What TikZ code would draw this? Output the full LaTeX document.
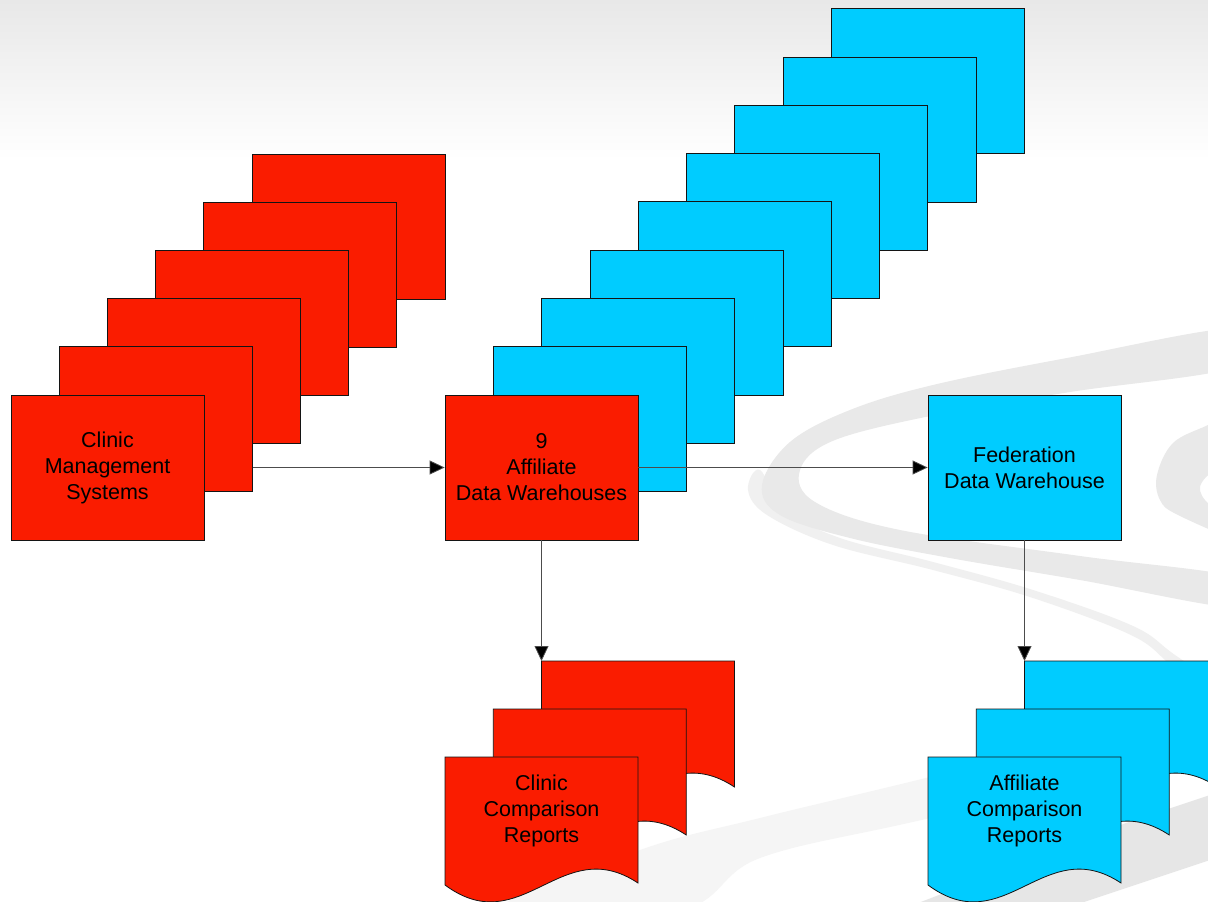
\documentclass[tikz,border=0pt]{standalone}
\usepackage{fontspec}
\setmainfont{Liberation Sans}
\usetikzlibrary{arrows.meta}

\definecolor{boxred}{RGB}{250,28,0}
\definecolor{boxblue}{RGB}{0,204,255}
\definecolor{edge}{RGB}{20,20,20}
\definecolor{swooshA}{RGB}{233,233,233}
\definecolor{swooshB}{RGB}{240,240,240}
\definecolor{swooshC}{RGB}{245,245,245}
\definecolor{swooshD}{RGB}{230,230,230}

\tikzset{
  unit/.style={draw=edge, line width=0.8pt, minimum width=193pt, minimum height=145pt,
    inner sep=0pt, align=center, font=\fontsize{21.5}{26}\selectfont},
  redunit/.style={unit, fill=boxred},
  blueunit/.style={unit, fill=boxblue},
  doclabel/.style={align=center, inner sep=0pt, font=\fontsize{21.5}{26}\selectfont},
  flow/.style={draw=black!70, line width=0.8pt,
    -{Triangle[length=15pt,width=14pt,fill=black]}},
  % flowchart "document" symbol, origin at its top-left corner
  report/.pic={
    \path[draw=edge, line width=0.8pt, pic actions]
      (0,0) -- (193,0) -- (193,126)
      .. controls (116,75) and (77,185) .. (0,128) -- cycle;
    \coordinate (-nw) at (0,0);
  }
}

\begin{document}
\begin{tikzpicture}[x=1pt,y=-1pt]
\useasboundingbox (0,0) rectangle (1208,902);
\clip (0,0) rectangle (1208,902);

% backdrop: soft grey fade at the top and pale swooshes
\fill[white] (0,0) rectangle (1208,902);
\shade[top color=black!9, bottom color=white] (0,0) rectangle (1208,160);

\fill[swooshC] plot[smooth cycle, tension=0.6] coordinates {
  (500,910) (640,850) (760,818) (930,777) (1240,700)
  (1240,745) (930,818) (760,858) (680,910)};
\fill[swooshD] (900,910) -- (1126,823) -- (1240,785) -- (1240,850) -- (1150,880) -- (1060,910) -- cycle;

\fill[swooshB] plot[smooth cycle, tension=0.6] coordinates {
  (760,470) (748,490) (767,515) (833,545) (933,570) (1033,598) (1133,636) (1175,668) (1240,712)
  (1240,700) (1175,655) (1133,626) (1033,590) (933,562) (840,538) (785,510)};
\fill[swooshA] plot[smooth cycle, tension=0.6] coordinates {
  (1240,328) (1067,358) (933,385) (850,410) (790,442) (762,485) (780,515) (850,538)
  (950,558) (1080,580) (1240,608)
  (1240,578) (1080,556) (900,530) (815,502) (800,470) (835,440) (940,414) (1070,392) (1240,366)};
\fill[swooshA] plot[smooth cycle, tension=0.6] coordinates {
  (1240,410) (1208,425) (1173,443) (1157,475) (1160,500) (1178,515) (1240,540)
  (1240,520) (1210,505) (1200,487) (1215,470) (1240,462)};

% clinic management systems (stack of six)
\foreach \k in {6,...,2}
  \node[redunit] (cms\k) at ({107.5+48.2*(\k-1)},{467.5-48.2*(\k-1)}) {};
\node[redunit] (cms1) at (107.5,467.5) {Clinic\\Management\\Systems};

% affiliate data warehouses (stack of nine)
\foreach \k in {9,...,2}
  \node[blueunit] (adw\k) at ({541.5+48.3*(\k-1)},{467.5-48.3*(\k-1)}) {};
\node[redunit] (adw1) at (541.5,467.5) {9\\Affiliate\\Data Warehouses};

% federation data warehouse
\node[blueunit] (fdw) at (1024.5,467.5) {Federation\\Data Warehouse};

% report stacks
\pic[fill=boxred] (crep3) at (541.5,661) {report};
\pic[fill=boxred] (crep2) at (493.25,709) {report};
\pic[fill=boxred] (crep1) at (445,757) {report};
\node[doclabel] (crep) at (541.5,811) {Clinic\\Comparison\\Reports};

\pic[fill=boxblue] (arep3) at (1024.5,661) {report};
\pic[fill=boxblue] (arep2) at (976.25,709) {report};
\pic[fill=boxblue] (arep1) at (928,757) {report};
\node[doclabel] (arep) at (1024.5,811) {Affiliate\\Comparison\\Reports};

% data flow
\draw[flow] (cms2.east |- cms1.center) -- (adw1.west);
\draw[flow] (adw1.east) -- (fdw.west);
\draw[flow] (adw1.south) -- (crep3-nw);
\draw[flow] (fdw.south) -- (arep3-nw);
\end{tikzpicture}
\end{document}
